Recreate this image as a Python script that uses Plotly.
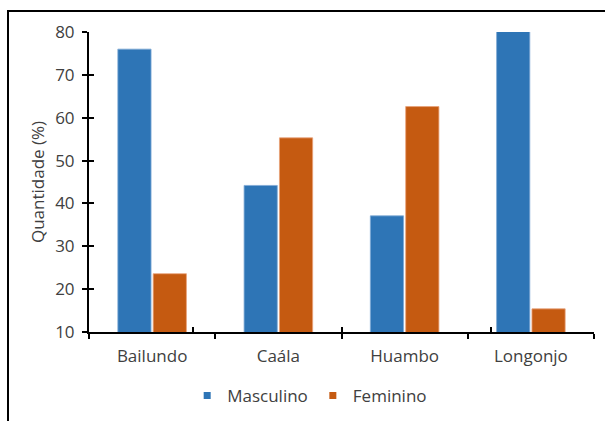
import plotly.graph_objects as go

categories = ["Bailundo", "Caála", "Huambo", "Longonjo"]
masculino = [76.0, 44.2, 37.1, 80.2]
feminino = [23.6, 55.3, 62.6, 15.4]
y_ticks = [10, 20, 30, 40, 50, 60, 70, 80]

BLUE = "#2E75B6"
ORANGE = "#C55A11"
TXT = "#404040"
FONT = "Open Sans"

fig = go.Figure()
fig.add_trace(go.Bar(name="Masculino", x=categories, y=masculino, showlegend=False,
                     marker=dict(color=BLUE, line=dict(color="#7FA9D6", width=0.8))))
fig.add_trace(go.Bar(name="Feminino", x=categories, y=feminino, showlegend=False,
                     marker=dict(color=ORANGE, line=dict(color="#E8A27A", width=0.8))))
# legend entries with small square symbols
for nm, col in (("Masculino", BLUE), ("Feminino", ORANGE)):
    fig.add_trace(go.Scatter(name=nm, x=[categories[0]], y=[None], mode="markers",
                             marker=dict(symbol="square", size=7, color=col),
                             hoverinfo="skip"))
# invisible trace for overlay axes (inner tick halves)
fig.add_trace(go.Scatter(x=categories, y=[None] * len(categories), xaxis="x2", yaxis="y2",
                         showlegend=False, hoverinfo="skip", mode="markers"))

fig.update_layout(
    width=605, height=421,
    margin=dict(l=89, r=11, t=32, b=89, autoexpand=False),
    paper_bgcolor="white", plot_bgcolor="white",
    font=dict(family=FONT, size=16.5, color=TXT),
    barmode="group", bargap=0.44, bargroupgap=0.06,
    showlegend=True,
    legend=dict(orientation="h", x=0.437, xanchor="center", y=-0.213, yanchor="middle",
                font=dict(size=17, color=TXT), itemwidth=30, traceorder="normal"),
    xaxis=dict(type="category", categoryorder="array", categoryarray=categories,
               showline=True, linecolor="black", linewidth=2,
               ticks="outside", ticklen=5, tickwidth=1.5, tickcolor="black",
               tickson="boundaries", showgrid=False, ticklabelstandoff=8,
               tickfont=dict(size=17)),
    yaxis=dict(range=[10, 80], tickvals=y_ticks, showline=True, linecolor="black", linewidth=2,
               ticks="outside", ticklen=5, tickwidth=1.5, tickcolor="black",
               showgrid=False, zeroline=False, ticklabelstandoff=4,
               tickfont=dict(size=17),
               title=dict(text="Quantidade (%)", font=dict(size=17, color=TXT), standoff=6)),
    xaxis2=dict(type="category", categoryorder="array", categoryarray=categories,
                overlaying="x", anchor="y2", side="bottom", showline=False,
                ticks="inside", ticklen=5, tickwidth=1.5, tickcolor="black",
                tickson="boundaries", showticklabels=False, showgrid=False),
    yaxis2=dict(range=[10, 80], tickvals=y_ticks, overlaying="y", anchor="x2", side="left",
                showline=False, ticks="inside", ticklen=5, tickwidth=1.5, tickcolor="black",
                showticklabels=False, showgrid=False, zeroline=False),
    shapes=[dict(type="rect", xref="paper", yref="paper",
                 x0=(8 - 89) / 505, x1=1.2, y0=-0.5, y1=(332 - 11) / 300,
                 line=dict(color="black", width=2), fillcolor="rgba(0,0,0,0)", layer="above")],
)

fig.write_html("out.html")
